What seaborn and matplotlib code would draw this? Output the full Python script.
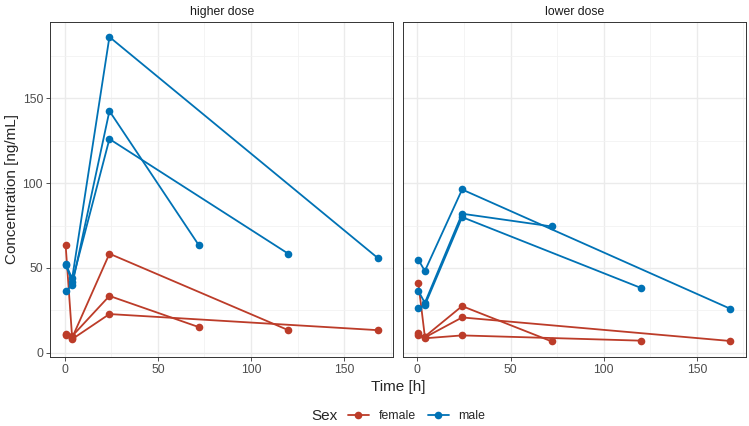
import numpy as np
import pandas as pd
import matplotlib
matplotlib.use('Agg')
import matplotlib.pyplot as plt
import seaborn as sns

# one row per subject: dose group, sex, last sampling time, concentrations
subj_dose = ['higher dose'] * 6 + ['lower dose'] * 6
subj_sex = ['female', 'female', 'female', 'male', 'male', 'male'] * 2
t_first = [0.5] * 12
t_mid = [4] * 12
t_peak = [24] * 12
t_last = [120, 72, 168, 168, 72, 120,
          72, 168, 120, 168, 72, 120]
c_first = [63.4, 11.0, 10.2, 52.4, 36.3, 51.8,
           41.2, 11.4, 10.5, 54.9, 36.5, 26.1]
c_mid = [8.8, 9.8, 8.0, 43.8, 39.8, 42.0,
         9.5, 9.0, 8.5, 48.2, 29.4, 28.0]
c_peak = [58.4, 33.5, 22.8, 186.3, 142.6, 126.1,
          27.5, 20.8, 10.2, 96.3, 82.0, 80.0]
c_last = [13.3, 15.1, 13.3, 55.9, 63.4, 58.4,
          6.7, 6.9, 7.1, 25.9, 74.5, 38.2]

rows = []
for i in range(len(subj_dose)):
    for t, c in zip([t_first[i], t_mid[i], t_peak[i], t_last[i]],
                    [c_first[i], c_mid[i], c_peak[i], c_last[i]]):
        rows.append(dict(ID=i, Dose=subj_dose[i], Sex=subj_sex[i], Time=t, Conc=c))
df = pd.DataFrame(rows)

palette = {'female': '#BC3C29', 'male': '#0072B5'}

sns.set_theme(style='white')
plt.rcParams['font.family'] = ['Liberation Sans', 'DejaVu Sans']

fig, axes = plt.subplots(1, 2, sharey=True, figsize=(7.49, 4.26), dpi=100)
fig.subplots_adjust(left=0.0668, right=0.996, top=0.949, bottom=0.163, wspace=0.0274)

# ggplot-like 5% expansion
xr = df.Time.max() - df.Time.min()
yr = df.Conc.max() - df.Conc.min()
xlim = (df.Time.min() - 0.05 * xr, df.Time.max() + 0.05 * xr)
ylim = (df.Conc.min() - 0.05 * yr, df.Conc.max() + 0.05 * yr)

for ax, dose in zip(axes, ['higher dose', 'lower dose']):
    sub = df[df.Dose == dose]
    sns.lineplot(data=sub, x='Time', y='Conc', hue='Sex', units='ID', estimator=None,
                 palette=palette, hue_order=['female', 'male'], marker='o', markersize=5.5,
                 markeredgewidth=0, linewidth=1.3, ax=ax)
    ax.set_xlim(xlim)
    ax.set_ylim(ylim)
    ax.set_xticks([0, 50, 100, 150])
    ax.set_xticks([25, 75, 125, 175], minor=True)
    ax.set_yticks([0, 50, 100, 150])
    ax.set_yticks([25, 75, 125, 175], minor=True)
    ax.grid(True, which='major', color='#EBEBEB', linewidth=1.0)
    ax.grid(True, which='minor', color='#F2F2F2', linewidth=0.6)
    ax.set_axisbelow(True)
    for s in ax.spines.values():
        s.set_color('#333333')
        s.set_linewidth(0.7)
    ax.tick_params(which='major', direction='out', length=3, width=0.6, color='#333333',
                   labelsize=8.8, labelcolor='#4D4D4D', pad=2, left=True, bottom=True)
    ax.tick_params(which='minor', length=0)
    ax.set_xlabel('')
    ax.set_ylabel('')
    ax.set_title(dose, fontsize=8.8, color='#1A1A1A', pad=5)
    handles, labels = ax.get_legend_handles_labels()
    ax.get_legend().remove()

axes[1].tick_params(left=False)

fig.text(12 / 749, 1 - 189 / 426, 'Concentration [ng/mL]', rotation=90,
         ha='center', va='center', fontsize=11)
fig.text(398 / 749, 1 - 386.7 / 426, 'Time [h]', ha='center', va='center', fontsize=11)
fig.text(311.5 / 749, 1 - 416 / 426, 'Sex', ha='left', va='center', fontsize=11)
fig.legend(handles, labels, loc='center left', bbox_to_anchor=(348 / 749, 1 - 416 / 426),
           ncol=2, frameon=False, fontsize=8.8, handlelength=1.7, handletextpad=0.8,
           columnspacing=1.0, borderaxespad=0, borderpad=0)

fig.savefig('out.png', dpi=100)
